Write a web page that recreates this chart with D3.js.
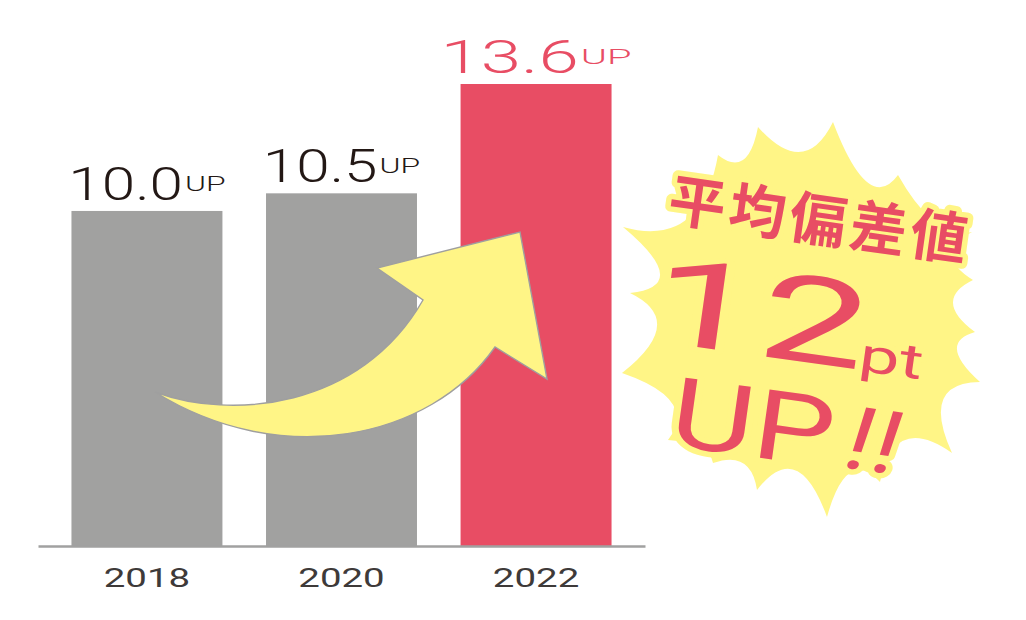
<!DOCTYPE html>
<html>
<head>
<meta charset="utf-8">
<script src="https://cdn.jsdelivr.net/npm/d3@7"></script>
<style>
  body { margin: 0; background: #fff; }
  svg { display: block; }
</style>
</head>
<body>
<script>
// data
const years = ["2018", "2020", "2022"];
const values = [10.0, 10.5, 13.6];
const valueLabels = ["10.0", "10.5", "13.6"];
const suffix = "UP";
const highlightYear = "2022";

// burst callout text
const burstTitle = "平均偏差値";
const burstNumber = "12";
const burstUnit = "pt";
const burstTail = "UP";
const burstBang = "!!";

const width = 1026, height = 620;
const baseY = 546;
const gray = "#a1a1a0", red = "#e84d64", yellow = "#fff586";
const dark = "#231815";
const numFont = "Roboto, 'DejaVu Sans', sans-serif";

const svg = d3.select("body").append("svg")
  .attr("width", width)
  .attr("height", height);

const x = d3.scaleBand()
  .domain(years)
  .range([38, 645])
  .paddingInner(0.224)
  .paddingOuter(0.172);

const y = d3.scaleLinear()
  .domain([0.5, d3.max(values)])
  .range([baseY, 84]);

// bars
svg.selectAll("rect.bar")
  .data(years)
  .enter()
  .append("rect")
  .attr("class", "bar")
  .attr("x", d => x(d))
  .attr("y", (d, i) => y(values[i]))
  .attr("width", x.bandwidth())
  .attr("height", (d, i) => baseY - y(values[i]))
  .attr("fill", d => d === highlightYear ? red : gray);

// x axis
const xAxis = d3.axisBottom(x).tickSize(0).tickPadding(0);
const ax = svg.append("g")
  .attr("transform", "translate(0," + baseY + ")")
  .call(xAxis);
ax.select(".domain").attr("stroke", gray).attr("stroke-width", 2.5);
ax.selectAll(".tick text").remove();

// year labels (stretched wide like the original)
years.forEach(yr => {
  const g = svg.append("g")
    .attr("transform", "translate(" + (x(yr) + x.bandwidth() / 2) + ",587) scale(1.45,1)");
  g.append("text")
    .text(yr)
    .attr("text-anchor", "middle")
    .attr("font-family", numFont)
    .attr("font-size", 26.5)
    .attr("fill", "#3e3a39");
});

// value labels
years.forEach((yr, i) => {
  const hl = yr === highlightYear;
  const color = hl ? red : dark;
  const sx = hl ? 1.58 : 1.31;
  const sxUp = hl ? 1.9 : 1.52;
  const g = svg.append("g");
  const numG = g.append("g").attr("transform", "scale(" + sx + ",1)");
  const num = numG.append("text")
    .text(valueLabels[i])
    .attr("font-family", numFont)
    .attr("font-weight", 300)
    .attr("font-size", 46)
    .attr("fill", color);
  const wNum = num.node().getComputedTextLength() * sx;
  const upG = g.append("g")
    .attr("transform", "translate(" + (wNum + 2) + ",-9) scale(" + sxUp + ",1)");
  const up = upG.append("text")
    .text(suffix)
    .attr("font-family", numFont)
    .attr("font-weight", 300)
    .attr("font-size", 21)
    .attr("fill", color);
  const total = wNum + 2 + up.node().getComputedTextLength() * sxUp;
  const cx = x(yr) + x.bandwidth() / 2;
  g.attr("transform", "translate(" + (cx - total / 2) + "," + (y(values[i]) - 11) + ")");
});

// curved arrow from the first bar to the highlighted one
svg.append("path")
  .attr("d", "M155,392 C230,420 360,410 423,300 L377,268 L520,232 L547,379 L495,347 " +
             "C430,440 280,470 155,392 Z")
  .attr("fill", yellow)
  .attr("stroke", "#9f9f9f")
  .attr("stroke-width", 1.4)
  .attr("stroke-linejoin", "miter");

// burst shape: alternating spike tips and valley points
const burstPts = [
  [833, 122], [867, 182], [898, 175], [935, 222], [972, 232], [952, 255],
  [973, 280], [953, 303], [975, 332], [957, 350], [980, 382], [943, 400],
  [952, 453], [905, 440], [880, 482], [850, 473], [827, 517], [795, 470],
  [757, 490], [743, 463], [713, 463], [700, 447], [668, 440], [672, 403],
  [622, 373], [657, 327], [630, 293], [660, 273], [623, 227], [686, 220],
  [718, 155], [743, 160], [758, 127], [800, 152]
];
let d = "M" + burstPts[0];
for (let k = 0; k < burstPts.length; k += 2) {
  const p0 = burstPts[k];
  const m = burstPts[(k + 1) % burstPts.length];
  const p1 = burstPts[(k + 2) % burstPts.length];
  const c = [2 * m[0] - 0.5 * (p0[0] + p1[0]), 2 * m[1] - 0.5 * (p0[1] + p1[1])];
  d += " Q" + c + " " + p1;
}
svg.append("path").attr("d", d + "Z").attr("fill", yellow);

// burst text, tilted
const bt = svg.append("g").attr("transform", "translate(800,320) rotate(8)");

function outlined(sel) {
  return sel.attr("fill", red)
    .attr("stroke", yellow)
    .attr("stroke-width", 11)
    .attr("stroke-linejoin", "round")
    .attr("paint-order", "stroke");
}

outlined(bt.append("text")
  .text(burstTitle)
  .attr("x", 6)
  .attr("y", -81)
  .attr("text-anchor", "middle")
  .attr("font-family", "'Noto Sans CJK JP', sans-serif")
  .attr("font-weight", 700)
  .attr("font-size", 57)
  .attr("letter-spacing", 4));

outlined(bt.append("g").attr("transform", "translate(-150,41) scale(1.62,1)")
  .append("text")
  .text(burstNumber)
  .attr("font-family", numFont)
  .attr("font-size", 121));

outlined(bt.append("g").attr("transform", "translate(64,42) scale(1.5,1)")
  .append("text")
  .text(burstUnit)
  .attr("font-family", numFont)
  .attr("font-size", 48));

outlined(bt.append("g").attr("transform", "translate(-114,142) scale(1.32,1)")
  .append("text")
  .text(burstTail)
  .attr("font-family", numFont)
  .attr("font-size", 97));

outlined(bt.append("g").attr("transform", "translate(58,140) skewX(-10) scale(1.2,1)")
  .append("text")
  .text(burstBang)
  .attr("font-family", numFont)
  .attr("font-size", 88));
</script>
</body>
</html>
